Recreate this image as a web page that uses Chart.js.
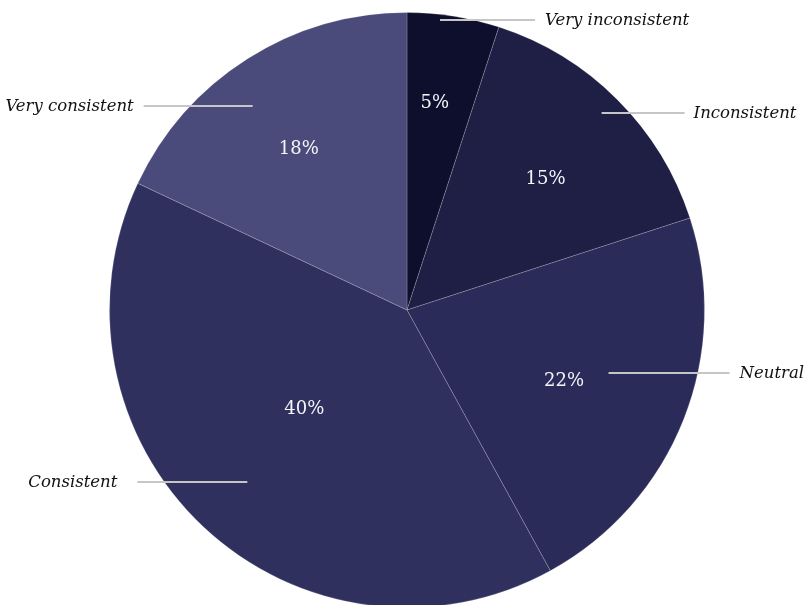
<!DOCTYPE html>
<html>
<head>
<meta charset="utf-8">
<script src="https://cdn.jsdelivr.net/npm/chart.js@4"></script>
<style>
  html, body { margin: 0; padding: 0; background: #fff; overflow: hidden; }
  #wrap { width: 809px; height: 610px; }
</style>
</head>
<body>
<div id="wrap"><canvas id="pie" width="809" height="610"></canvas></div>
<script>
// Datos
const categorias = ["Very inconsistent", "Inconsistent", "Neutral", "Consistent", "Very consistent"];
const porcentajes = [5, 15, 22, 40, 18];
const colores = ["#0e0f2c", "#1f1f46", "#2b2b59", "#30305f", "#4a4b7b"];

// Posición de etiquetas y líneas guía (fracción del radio, desplazamiento en grados, largo y separación en px)
const etiquetasLayout = [
  { pct: 0.70, pctShift: -1.3, line: 0.98, lineShift: -2.5, len: 95,  gap: 10 },
  { pct: 0.64, pctShift: 1.7,  line: 0.93, lineShift: -0.3, len: 83,  gap: 9 },
  { pct: 0.58, pctShift: 2.9,  line: 0.71, lineShift: -4.2, len: 121, gap: 10 },
  { pct: 0.48, pctShift: 2.8,  line: 0.79, lineShift: -0.4, len: 110, gap: 20 },
  { pct: 0.65, pctShift: -1.6, line: 0.86, lineShift: -4.7, len: 109, gap: 10 }
];

const fuente = '"DejaVu Serif", "Liberation Serif", serif';

const etiquetasPlugin = {
  id: "etiquetas",
  afterDatasetsDraw(chart) {
    const ctx = chart.ctx;
    const arcs = chart.getDatasetMeta(0).data;
    ctx.save();
    arcs.forEach((arc, i) => {
      const { x, y, startAngle, endAngle, outerRadius } = arc.getProps(["x", "y", "startAngle", "endAngle", "outerRadius"], true);
      const mid = (startAngle + endAngle) / 2;
      const lay = etiquetasLayout[i];

      // Línea guía
      const a = mid + lay.lineShift * Math.PI / 180;
      const x0 = x + Math.cos(a) * outerRadius * lay.line;
      const y0 = Math.round(y + Math.sin(a) * outerRadius * lay.line);
      const derecha = Math.cos(mid) >= 0;
      const x1 = derecha ? x0 + lay.len : x0 - lay.len;
      ctx.strokeStyle = "#c6c6c6";
      ctx.lineWidth = 2;
      ctx.beginPath();
      ctx.moveTo(x0, y0);
      ctx.lineTo(x1, y0);
      ctx.stroke();

      // Nombre de la categoría
      ctx.fillStyle = "#111";
      ctx.font = "italic 16.5px " + fuente;
      ctx.textBaseline = "middle";
      ctx.textAlign = derecha ? "left" : "right";
      ctx.fillText(categorias[i], derecha ? x1 + lay.gap : x1 - lay.gap, y0 + 1);

      // Porcentaje
      const b = mid + lay.pctShift * Math.PI / 180;
      const px = x + Math.cos(b) * outerRadius * lay.pct;
      const py = y + Math.sin(b) * outerRadius * lay.pct;
      ctx.fillStyle = "#f4f4f8";
      ctx.font = "18px " + fuente;
      ctx.textAlign = "center";
      ctx.fillText(porcentajes[i] + "%", px, py);
    });
    ctx.restore();
  }
};

new Chart(document.getElementById("pie"), {
  type: "pie",
  data: {
    labels: categorias,
    datasets: [{
      data: porcentajes,
      backgroundColor: colores,
      borderColor: "rgba(255,255,255,0.18)",
      borderWidth: 1
    }]
  },
  options: {
    responsive: false,
    animation: false,
    layout: { padding: { top: 12, bottom: 2, left: 5, right: 0 } },
    plugins: {
      legend: { display: false },
      tooltip: { enabled: false }
    }
  },
  plugins: [etiquetasPlugin]
});
</script>
</body>
</html>
